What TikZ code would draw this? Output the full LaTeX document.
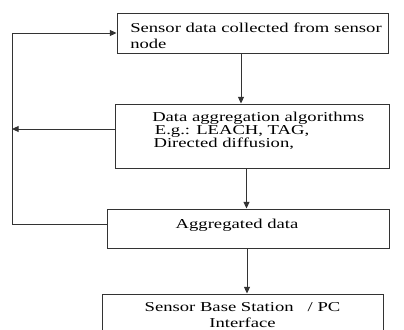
\documentclass[tikz,border=0pt]{standalone}
\usepackage{fontspec}
\setmainfont{Liberation Serif}
\newfontfamily\diagfont[FakeStretch=1.37]{Liberation Serif}
\usetikzlibrary{arrows.meta,calc}

\begin{document}
\begin{tikzpicture}[x=0.75pt,y=0.75pt,yscale=-1,xscale=1,
	box/.style={draw=black!80,line width=0.75pt,inner sep=0pt},
	txt/.style={inner sep=0pt,font=\diagfont\fontsize{10.2pt}{12pt}\selectfont},
	conn/.style={draw=black!80,line width=0.75pt,-{Triangle[length=5pt,width=4.5pt]}}]
	\useasboundingbox (0,0) rectangle (404,329);
	
	% Box
	\node[box,minimum width=203.25pt,minimum height=30pt] (sensor) at (252.5,33) {};
	% Box
	\node[box,minimum width=205.5pt,minimum height=48pt] (algo) at (252,136) {};
	% Box
	\node[box,minimum width=211.5pt,minimum height=29.25pt] (agg) at (248,228.5) {};
	% Box
	\node[box,minimum width=210.75pt,minimum height=37.5pt] (base) at (242.5,319) {};
	
	% Text Node
	\node[txt,anchor=west,align=left] (sensortxt) at (130,36) {Sensor data collected from sensor\\node};
	% Text Node
	\node[txt,anchor=west,align=left,font=\diagfont\fontsize{10.2pt}{9.75pt}\selectfont] (algotxt) at (152,131) {Data aggregation algorithms\\\hspace{2pt}E.g.: LEACH, TAG,\\\hspace{1pt}Directed diffusion,};
	% Text Node
	\node[txt] (aggtxt) at (237,225) {Aggregated data};
	% Text Node
	\node[txt,align=center] (basetxt) at (242.5,315) {Sensor Base Station \ \ / PC\\Interface};
	
	% Connection
	\draw[conn] ($(sensor.south)+(-11.5,0)$) -- ($(algo.north)+(-11,0)$);
	% Connection
	\draw[conn] ($(algo.south)+(-5.5,0)$) -- ($(agg.north)+(-1.5,0)$);
	% Connection
	\draw[conn] ($(agg.south)+(-1,0)$) -- ($(base.north)+(4.5,0)$);
	% Feedback
	\coordinate (fb) at (12,224);
	\draw[conn] ($(agg.west)+(0,-4.5)$) -- (fb) |- (sensor.west);
	\coordinate (algoout) at ($(algo.west)+(0,-7)$);
	\draw[conn] (algoout) -- (fb |- algoout);
	
\end{tikzpicture}
\end{document}
